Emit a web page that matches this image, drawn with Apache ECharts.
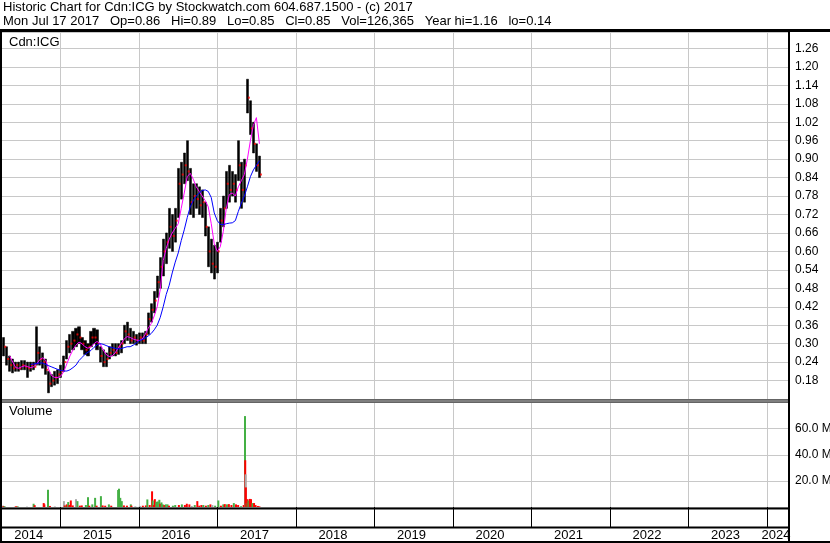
<!DOCTYPE html>
<html>
<head>
<meta charset="utf-8">
<script src="https://cdn.jsdelivr.net/npm/echarts@6/dist/echarts.min.js"></script>
<style>
html, body { margin: 0; padding: 0; background: #fff; }
#chart { width: 830px; height: 543px; }
</style>
</head>
<body>
<div id="chart"></div>
<script>
// price bars, two-week steps (hi / lo / close)
var barDates = ['2014-04-11','2014-04-25','2014-05-09','2014-05-23','2014-06-06','2014-06-20','2014-07-04','2014-07-18','2014-08-01','2014-08-15',
  '2014-08-29','2014-09-12','2014-09-26','2014-10-10','2014-10-24','2014-11-07','2014-11-21','2014-12-05','2014-12-19','2015-01-02',
  '2015-01-16','2015-01-30','2015-02-13','2015-02-27','2015-03-13','2015-03-27','2015-04-10','2015-04-24','2015-05-08','2015-05-22',
  '2015-06-05','2015-06-19','2015-07-03','2015-07-17','2015-07-31','2015-08-14','2015-08-28','2015-09-11','2015-09-25','2015-10-09',
  '2015-10-23','2015-11-06','2015-11-20','2015-12-04','2015-12-18','2016-01-01','2016-01-15','2016-01-29','2016-02-12','2016-02-26',
  '2016-03-11','2016-03-25','2016-04-08','2016-04-22','2016-05-06','2016-05-20','2016-06-03','2016-06-17','2016-07-01','2016-07-15',
  '2016-07-29','2016-08-12','2016-08-26','2016-09-09','2016-09-23','2016-10-07','2016-10-21','2016-11-04','2016-11-18','2016-12-02',
  '2016-12-16','2016-12-30','2017-01-13','2017-01-27','2017-02-10','2017-02-24','2017-03-10','2017-03-24','2017-04-07','2017-04-21',
  '2017-05-05','2017-05-19','2017-06-02','2017-06-16','2017-06-30','2017-07-14'];
var barHigh = [0.32,0.29,0.26,0.25,0.24,0.24,0.245,0.245,0.24,0.24,
  0.24,0.355,0.29,0.27,0.25,0.21,0.20,0.21,0.215,0.23,
  0.26,0.31,0.33,0.34,0.35,0.355,0.32,0.31,0.30,0.34,
  0.35,0.345,0.29,0.28,0.27,0.29,0.30,0.30,0.30,0.31,
  0.36,0.37,0.35,0.34,0.33,0.335,0.335,0.34,0.40,0.43,
  0.47,0.52,0.58,0.64,0.66,0.74,0.72,0.74,0.87,0.89,
  0.92,0.96,0.87,0.82,0.82,0.81,0.80,0.76,0.68,0.64,
  0.62,0.63,0.74,0.78,0.86,0.88,0.86,0.85,0.96,0.89,
  0.90,1.16,1.09,1.02,0.95,0.91];
var barLow = [0.26,0.23,0.21,0.205,0.21,0.21,0.215,0.215,0.19,0.21,
  0.215,0.23,0.23,0.22,0.20,0.14,0.16,0.165,0.17,0.19,
  0.21,0.25,0.27,0.28,0.29,0.30,0.28,0.265,0.26,0.29,
  0.30,0.28,0.24,0.225,0.225,0.25,0.26,0.26,0.265,0.27,
  0.30,0.31,0.30,0.30,0.295,0.30,0.30,0.30,0.33,0.37,
  0.40,0.45,0.48,0.52,0.56,0.61,0.60,0.63,0.71,0.77,
  0.82,0.83,0.72,0.71,0.74,0.72,0.71,0.65,0.55,0.53,
  0.51,0.53,0.63,0.68,0.74,0.76,0.78,0.76,0.83,0.74,
  0.76,1.05,0.98,0.92,0.86,0.84];
var barClose = [0.29,0.25,0.23,0.22,0.23,0.22,0.23,0.225,0.22,0.23,
  0.225,0.27,0.25,0.24,0.215,0.17,0.18,0.19,0.20,0.21,
  0.24,0.29,0.30,0.31,0.33,0.32,0.30,0.28,0.29,0.32,
  0.32,0.30,0.26,0.24,0.25,0.27,0.28,0.27,0.29,0.30,
  0.34,0.33,0.31,0.32,0.31,0.32,0.31,0.33,0.38,0.41,
  0.44,0.50,0.55,0.60,0.63,0.68,0.65,0.70,0.82,0.85,
  0.88,0.86,0.76,0.78,0.77,0.75,0.76,0.68,0.60,0.56,
  0.55,0.60,0.70,0.74,0.82,0.80,0.82,0.80,0.88,0.80,
  0.88,1.10,1.00,0.95,0.88,0.85];
// moving averages (null = not drawn yet)
var maShort = [null,null,0.26,0.24,0.222,0.22,0.225,0.228,0.225,0.222,
  0.225,0.235,0.248,0.254,0.245,0.215,0.195,0.19,0.19,0.195,
  0.21,0.235,0.26,0.28,0.295,0.305,0.30,0.29,0.285,0.29,
  0.30,0.307,0.30,0.28,0.265,0.258,0.26,0.27,0.285,0.30,
  0.315,0.323,0.32,0.315,0.312,0.31,0.315,0.33,0.35,0.365,
  0.39,0.42,0.475,0.57,0.61,0.64,0.66,0.675,0.69,0.74,
  0.79,0.843,0.854,0.835,0.81,0.795,0.78,0.765,0.745,0.69,
  0.625,0.60,0.615,0.665,0.74,0.785,0.79,0.78,0.81,0.83,
  0.85,0.90,0.96,1.01,1.035,0.95];
var maLong = [null,null,null,null,null,null,null,null,null,0.232,
  0.234,0.236,0.237,0.237,0.232,0.228,0.224,0.22,0.216,0.213,
  0.211,0.211,0.215,0.222,0.23,0.245,0.255,0.265,0.272,0.278,
  0.288,0.296,0.30,0.298,0.294,0.29,0.287,0.285,0.283,0.284,
  0.287,0.29,0.29,0.295,0.302,0.31,0.313,0.318,0.325,0.333,
  0.345,0.36,0.385,0.42,0.46,0.49,0.53,0.565,0.595,0.635,
  0.67,0.71,0.745,0.765,0.78,0.79,0.798,0.80,0.795,0.775,
  0.725,0.70,0.688,0.687,0.69,0.692,0.693,0.70,0.73,0.757,
  0.78,0.81,0.843,0.865,0.88,0.895];

// volume (millions), u = up day, d = down day, n = unchanged
var volDates = ['2014-04-07','2014-04-10','2014-04-15','2014-06-06','2014-06-11','2014-06-16','2014-07-28','2014-08-28','2014-09-02','2014-10-14',
  '2014-10-17','2014-11-03','2014-11-12','2014-12-05','2015-01-16','2015-01-20','2015-01-26','2015-01-29','2015-02-05','2015-02-10',
  '2015-02-17','2015-02-26','2015-03-13','2015-03-20','2015-03-31','2015-04-09','2015-04-28','2015-05-08','2015-05-14','2015-05-28',
  '2015-06-10','2015-06-17','2015-07-07','2015-07-15','2015-07-27','2015-08-13','2015-08-24','2015-09-25','2015-09-29','2015-10-05',
  '2015-10-12','2015-10-22','2015-11-05','2015-11-23','2015-11-26','2015-12-14','2016-01-04','2016-01-18','2016-02-01','2016-02-08',
  '2016-02-19','2016-03-01','2016-03-04','2016-03-09','2016-03-14','2016-03-21','2016-03-28','2016-04-04','2016-04-08','2016-04-14',
  '2016-04-20','2016-04-27','2016-05-04','2016-05-12','2016-05-19','2016-06-06','2016-06-17','2016-07-04','2016-07-18','2016-08-01',
  '2016-08-10','2016-08-22','2016-09-02','2016-09-16','2016-09-28','2016-10-07','2016-10-17','2016-10-26','2016-11-07','2016-11-18',
  '2016-11-28','2016-12-07','2016-12-20','2017-01-04','2017-01-16','2017-01-27','2017-02-03','2017-02-13','2017-02-22','2017-03-06',
  '2017-03-17','2017-03-27','2017-04-06','2017-04-20','2017-05-02','2017-05-08','2017-05-09','2017-05-11','2017-05-12','2017-05-16',
  '2017-05-19','2017-05-24','2017-05-30','2017-06-05','2017-06-12','2017-06-19','2017-06-26','2017-07-07','2017-07-14'];
var volValues = [1.0,0.8,0.6,0.5,0.4,0.4,0.3,2.5,1.4,3.0,
  2.0,13.2,0.8,0.4,4.5,1.2,1.0,2.0,3.8,1.5,
  5.0,1.2,6.0,4.5,1.0,1.2,1.5,7.5,1.0,2.0,
  7.0,1.0,8.3,1.2,1.0,2.0,1.0,13.0,14.0,7.0,
  4.5,1.2,1.0,2.0,1.0,0.5,0.8,1.0,1.2,5.8,
  1.5,12.0,5.0,1.5,6.0,4.0,4.2,5.5,2.5,3.5,
  2.0,1.5,2.0,2.0,1.0,1.0,1.5,1.5,2.0,1.5,
  2.5,2.0,0.8,1.5,4.5,1.0,1.5,1.5,1.0,1.5,
  2.0,1.5,1.0,5.0,1.0,2.0,2.2,2.0,2.2,1.5,
  3.0,2.0,1.5,0.6,1.5,69.6,35.8,25.0,15.0,3.0,
  6.0,5.0,6.2,6.0,3.0,3.0,1.5,0.8,0.5];
var volDir = ['n','d','u','d','d','u','n','u','d','d',
  'd','u','d','n','n','d','u','d','u','d',
  'd','d','n','u','d','d','u','u','d','u',
  'u','d','u','d','d','u','d','u','u','u',
  'u','d','d','u','d','n','n','d','d','u',
  'd','d','u','d','d','u','u','u','d','u',
  'u','d','u','u','d','u','u','d','u','d',
  'd','d','n','u','d','d','d','u','d','u',
  'd','n','u','u','d','u','d','u','d','d',
  'u','d','d','u','d','u','d','n','d','u',
  'd','u','d','d','u','d','d','d','d'];

var priceMin = 0.12, priceMax = 1.3135, priceStep = 0.06;
var volMax = 80, volStep = 20;
var yearMin = 2014, yearMax = 2024.278;
// label centres between the year lines
var yearLabelPos = [2014.592, 2015.468, 2016.468, 2017.468, 2018.468, 2019.468, 2020.468, 2021.468, 2022.468, 2023.468, 2024.112];

var dirColor = { u: '#44b044', d: '#ff0000', n: '#a8a8a8' };
var font = 'Liberation Sans, Arial, sans-serif';
var gridGrey = '#c8c8c8';

function toYear(s) {
  var p = s.split('-');
  var y = +p[0];
  var t = Date.UTC(y, p[1] - 1, +p[2]);
  return y + (t - Date.UTC(y, 0, 1)) / (Date.UTC(y + 1, 0, 1) - Date.UTC(y, 0, 1));
}

var candleData = barDates.map(function (d, i) {
  return [toYear(d), barHigh[i], barLow[i], barLow[i], barHigh[i]];
});
var closeData = barDates.map(function (d, i) { return [toYear(d), barClose[i]]; });
var maShortData = [], maLongData = [];
barDates.forEach(function (d, i) {
  if (maShort[i] != null) maShortData.push([toYear(d), maShort[i]]);
  if (maLong[i] != null) maLongData.push([toYear(d), maLong[i]]);
});
var volData = volDates.map(function (d, i) {
  return { value: [toYear(d), volValues[i] * 1e6], itemStyle: { color: dirColor[volDir[i]] } };
});

var chart = echarts.init(document.getElementById('chart'), null, { renderer: 'canvas' });

var xCommon = {
  type: 'value', min: yearMin, max: yearMax, interval: 1,
  axisLine: { show: false }, axisTick: { show: false }, axisLabel: { show: false },
  splitLine: { show: true, lineStyle: { color: gridGrey, width: 1 } }
};

chart.setOption({
  animation: false,
  backgroundColor: '#fff',
  textStyle: { fontFamily: font },
  grid: [
    { left: -17.8, top: 32, width: 806.8, height: 367, outerBoundsMode: 'none', containLabel: false },
    { left: -17.8, top: 402.5, width: 806.8, height: 104.5, outerBoundsMode: 'none', containLabel: false }
  ],
  xAxis: [
    Object.assign({ gridIndex: 0 }, xCommon),
    Object.assign({}, xCommon, {
      gridIndex: 1,
      axisTick: { show: true, length: 20, lineStyle: { color: '#000', width: 1 } },
      axisLabel: {
        show: true, customValues: yearLabelPos, margin: 22,
        fontSize: 13, color: '#000', fontFamily: font, hideOverlap: false,
        formatter: function (v) { return String(Math.floor(v)); }
      }
    })
  ],
  yAxis: [
    {
      gridIndex: 0, type: 'value', position: 'right', min: priceMin, max: priceMax, interval: priceStep,
      axisLine: { show: false }, axisTick: { show: false },
      axisLabel: { margin: 6, fontSize: 12, color: '#000', fontFamily: font, showMinLabel: false, showMaxLabel: false,
        formatter: function (v) { return v.toFixed(2); } },
      splitLine: { lineStyle: { color: gridGrey, width: 1 } }
    },
    {
      gridIndex: 1, type: 'value', position: 'right', min: 0, max: volMax * 1e6, interval: volStep * 1e6,
      axisLine: { show: false }, axisTick: { show: false },
      axisLabel: { margin: 6, fontSize: 12, color: '#000', fontFamily: font, showMinLabel: false, showMaxLabel: false,
        formatter: function (v) { return (v / 1e6).toFixed(1) + ' M'; } },
      splitLine: { lineStyle: { color: gridGrey, width: 1 } }
    }
  ],
  series: [
    {
      type: 'candlestick', xAxisIndex: 0, yAxisIndex: 0, data: candleData,
      encode: { x: 0, y: [1, 2, 3, 4] }, barWidth: 2.6,
      itemStyle: { color: '#000', color0: '#000', borderColor: '#000', borderColor0: '#000', borderWidth: 0.5 }
    },
    {
      type: 'scatter', xAxisIndex: 0, yAxisIndex: 0, data: closeData,
      symbol: 'rect', symbolSize: [2, 2], symbolOffset: [1.5, 0],
      itemStyle: { color: '#ff0000' }, z: 3
    },
    {
      type: 'line', xAxisIndex: 0, yAxisIndex: 0, data: maShortData, showSymbol: false,
      lineStyle: { color: '#ff00ff', width: 1 }, z: 4
    },
    {
      type: 'line', xAxisIndex: 0, yAxisIndex: 0, data: maLongData, showSymbol: false,
      lineStyle: { color: '#0000ff', width: 1 }, z: 4
    },
    {
      type: 'bar', xAxisIndex: 1, yAxisIndex: 1, data: volData, barWidth: 2
    }
  ],
  graphic: [
    { type: 'text', left: 3, top: 1, style: { text: 'Historic Chart for Cdn:ICG by Stockwatch.com 604.687.1500 - (c) 2017', font: '13px ' + font, fill: '#000' } },
    { type: 'text', left: 3, top: 15, style: { text: 'Mon Jul 17 2017   Op=0.86   Hi=0.89   Lo=0.85   Cl=0.85   Vol=126,365   Year hi=1.16   lo=0.14', font: '13px ' + font, fill: '#000' } },
    { type: 'text', left: 9, top: 36, style: { text: 'Cdn:ICG', font: '13px ' + font, fill: '#000' }, z: 10 },
    { type: 'text', left: 9, top: 405, style: { text: 'Volume', font: '13px ' + font, fill: '#000' }, z: 10 },
    // frame lines
    { type: 'rect', shape: { x: 0, y: 29, width: 830, height: 3 }, style: { fill: '#000' }, z: 20 },
    { type: 'rect', shape: { x: 0, y: 29, width: 2, height: 514 }, style: { fill: '#000' }, z: 20 },
    { type: 'rect', shape: { x: 788, y: 29, width: 2, height: 514 }, style: { fill: '#000' }, z: 20 },
    { type: 'rect', shape: { x: 0, y: 399.5, width: 789, height: 1 }, style: { fill: '#000' }, z: 20 },
    { type: 'rect', shape: { x: 0, y: 401.5, width: 789, height: 1 }, style: { fill: '#000' }, z: 20 },
    { type: 'rect', shape: { x: 0, y: 507.5, width: 789, height: 2 }, style: { fill: '#000' }, z: 20 },
    { type: 'rect', shape: { x: 0, y: 526.5, width: 789, height: 2 }, style: { fill: '#000' }, z: 20 },
    { type: 'rect', shape: { x: 0, y: 541, width: 830, height: 2 }, style: { fill: '#000' }, z: 20 }
  ]
});
</script>
</body>
</html>
